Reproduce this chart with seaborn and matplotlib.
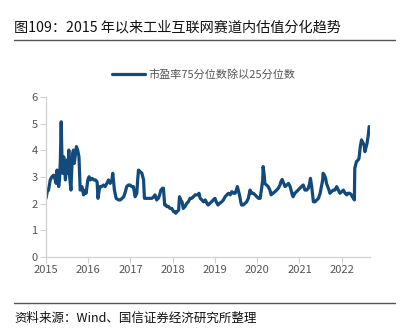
import matplotlib
matplotlib.use("Agg")
import matplotlib.pyplot as plt
import seaborn as sns
import pandas as pd
from matplotlib.lines import Line2D

years = [
    2015.00, 2015.03, 2015.06, 2015.10, 2015.14, 2015.18, 2015.22, 2015.24, 2015.26, 2015.28,
    2015.30, 2015.32, 2015.34, 2015.36, 2015.38, 2015.39, 2015.42, 2015.44, 2015.46, 2015.50,
    2015.52, 2015.54, 2015.56, 2015.59, 2015.61, 2015.63, 2015.65, 2015.67, 2015.69, 2015.72,
    2015.75, 2015.78, 2015.81, 2015.85, 2015.89, 2015.93, 2015.95, 2015.99, 2016.02, 2016.05,
    2016.09, 2016.13, 2016.17, 2016.21, 2016.23, 2016.26, 2016.28, 2016.32, 2016.36, 2016.40,
    2016.44, 2016.48, 2016.52, 2016.56, 2016.58, 2016.62, 2016.66, 2016.72, 2016.76, 2016.80,
    2016.84, 2016.88, 2016.91, 2016.95, 2016.99, 2017.03, 2017.07, 2017.11, 2017.15, 2017.17,
    2017.19, 2017.23, 2017.27, 2017.31, 2017.33, 2017.39, 2017.43, 2017.47, 2017.51, 2017.55,
    2017.58, 2017.62, 2017.66, 2017.69, 2017.72, 2017.76, 2017.78, 2017.81, 2017.84, 2017.86,
    2017.90, 2017.94, 2017.98, 2018.02, 2018.05, 2018.07, 2018.10, 2018.14, 2018.16, 2018.19,
    2018.22, 2018.25, 2018.29, 2018.33, 2018.37, 2018.41, 2018.45, 2018.49, 2018.53, 2018.57,
    2018.61, 2018.62, 2018.65, 2018.69, 2018.73,
    2018.77, 2018.81, 2018.84, 2018.88, 2018.92, 2018.96, 2019.00, 2019.03, 2019.07, 2019.11,
    2019.16, 2019.20, 2019.24, 2019.28, 2019.32, 2019.36, 2019.40, 2019.44, 2019.48, 2019.53,
    2019.55, 2019.58, 2019.61, 2019.63, 2019.67, 2019.71, 2019.75, 2019.79, 2019.83, 2019.87,
    2019.91, 2019.95, 2019.99, 2020.03, 2020.07, 2020.11, 2020.13, 2020.14, 2020.17, 2020.18,
    2020.22, 2020.26, 2020.30, 2020.33, 2020.36, 2020.38, 2020.42, 2020.46, 2020.50, 2020.54,
    2020.56, 2020.59, 2020.63, 2020.66, 2020.70, 2020.74, 2020.78, 2020.80, 2020.83, 2020.85,
    2020.89, 2020.93, 2020.97, 2021.01, 2021.05, 2021.09, 2021.13, 2021.17, 2021.21, 2021.24,
    2021.26, 2021.29, 2021.33, 2021.37, 2021.41, 2021.45, 2021.49, 2021.52, 2021.55, 2021.56,
    2021.59, 2021.62, 2021.64, 2021.67, 2021.70, 2021.72, 2021.76, 2021.80, 2021.84, 2021.88,
    2021.92, 2021.96, 2022.00, 2022.04, 2022.08, 2022.12, 2022.15, 2022.19, 2022.23, 2022.25,
    2022.28, 2022.30, 2022.31, 2022.35, 2022.39, 2022.41, 2022.44, 2022.47, 2022.49, 2022.53,
    2022.55, 2022.57, 2022.60, 2022.63, 2022.65,
]

ratio = [
    2.20, 2.45, 2.51, 2.89, 3.01, 3.07, 2.89, 2.76, 3.26, 3.01,
    2.64, 2.89, 3.64, 5.07, 3.51, 3.14, 3.76, 3.26, 2.89, 3.64,
    3.14, 4.01, 3.01, 2.51, 3.26, 3.89, 4.01, 3.51, 3.76, 4.14,
    4.01, 3.76, 2.51, 2.64, 2.33, 2.51, 2.39, 2.89, 3.01, 2.89,
    2.95, 2.89, 2.89, 2.82, 2.20, 2.51, 2.64, 2.64, 2.70, 2.64,
    2.76, 2.89, 2.76, 2.89, 3.14, 2.51, 2.20, 2.14, 2.14, 2.20,
    2.26, 2.45, 2.64, 2.70, 2.70, 2.64, 2.64, 2.26, 2.39, 2.89,
    3.26, 3.20, 3.14, 2.89, 2.20, 2.20, 2.20, 2.20, 2.20, 2.26,
    2.33, 2.14, 2.20, 2.33, 2.51, 2.58, 2.58, 1.95, 1.95, 1.89,
    1.89, 1.82, 1.82, 1.70, 1.70, 1.64, 1.70, 1.76, 2.26, 2.14,
    2.07, 1.82, 1.89, 2.01, 2.07, 2.20, 2.20, 2.26, 2.33, 2.33,
    2.33, 2.39, 2.20, 2.14, 2.07,
    2.14, 2.01, 1.95, 2.01, 2.07, 2.14, 2.20, 2.07, 1.95, 2.01,
    2.07, 2.14, 2.26, 2.33, 2.39, 2.33, 2.45, 2.39, 2.39, 2.64,
    2.51, 2.33, 2.07, 1.95, 1.95, 2.01, 2.07, 2.20, 2.51, 2.39,
    2.39, 2.33, 2.26, 2.20, 2.20, 2.64, 2.89, 3.39, 3.01, 2.76,
    2.70, 2.64, 2.51, 2.33, 2.39, 2.39, 2.45, 2.51, 2.58, 2.70,
    2.82, 2.91, 2.76, 2.64, 2.70, 2.76, 2.64, 2.51, 2.33, 2.26,
    2.39, 2.45, 2.51, 2.58, 2.64, 2.70, 2.51, 2.51, 2.58, 2.76,
    2.95, 2.64, 2.07, 2.07, 2.14, 2.20, 2.39, 2.64, 2.89, 3.14,
    3.07, 2.95, 2.76, 2.64, 2.51, 2.39, 2.45, 2.51, 2.51, 2.64,
    2.51, 2.39, 2.45, 2.51, 2.39, 2.33, 2.39, 2.39, 2.33, 2.26,
    2.20, 2.14, 3.33, 3.58, 3.64, 3.70, 4.14, 4.39, 4.32, 4.20,
    3.95, 4.07, 4.26, 4.58, 4.89,
]

year_ticks = [2015, 2016, 2017, 2018, 2019, 2020, 2021, 2022]
y_ticks = [0, 1, 2, 3, 4, 5, 6]
series_name = "市盈率75分位数除以25分位数"
title = "图109：2015 年以来工业互联网赛道内估值分化趋势"
source = "资料来源：Wind、国信证券经济研究所整理"

df = pd.DataFrame({"year": years, "ratio": ratio})

sns.set_theme(style="white")
plt.rcParams["font.family"] = ["Noto Sans CJK SC", "DejaVu Sans"]

W, H = 410, 329
fig = plt.figure(figsize=(W / 100, H / 100), dpi=100)
ax = fig.add_axes([46 / W, 1 - 257 / H, (370 - 46) / W, (257 - 97) / H])

line_color = "#124a7e"
sns.lineplot(data=df, x="year", y="ratio", ax=ax, color=line_color, linewidth=2.3)

ax.set_xlim(2015.0, 2022.67)
ax.set_ylim(0, 6)
ax.set_xticks(year_ticks)
ax.set_xticklabels([str(y) for y in year_ticks])
ax.set_yticks(y_ticks)
ax.set_xlabel("")
ax.set_ylabel("")

for s in ["top", "right"]:
    ax.spines[s].set_visible(False)
for s in ["left", "bottom"]:
    ax.spines[s].set_color("#d0d0d0")
    ax.spines[s].set_linewidth(0.9)
ax.tick_params(axis="both", which="both", length=4, width=0.8, color="#d0d0d0",
               labelsize=8, labelcolor="#555555", pad=2)
ax.tick_params(axis="x", direction="out", bottom=True)
ax.tick_params(axis="y", direction="out", left=True)

# legend
handle = Line2D([0], [0], color=line_color, linewidth=2.3)
fig.legend([handle], [series_name], loc="center", bbox_to_anchor=(204 / W, 1 - 75 / H),
           frameon=False, fontsize=8, labelcolor="#555555", handlelength=3.0,
           handletextpad=0.3)

# title and source
fig.text(14 / W, 1 - 27 / H, title, fontsize=10.2, color="#111111", va="center", ha="left")
fig.add_artist(Line2D([14 / W, 395 / W], [1 - 40 / H, 1 - 40 / H], color="#555555", linewidth=1.0))
fig.add_artist(Line2D([14 / W, 395 / W], [1 - 303 / H, 1 - 303 / H], color="#555555", linewidth=1.0))
fig.text(14 / W, 1 - 318 / H, source, fontsize=9, color="#111111", va="center", ha="left")

fig.savefig("out.png", dpi=100, facecolor="white")
